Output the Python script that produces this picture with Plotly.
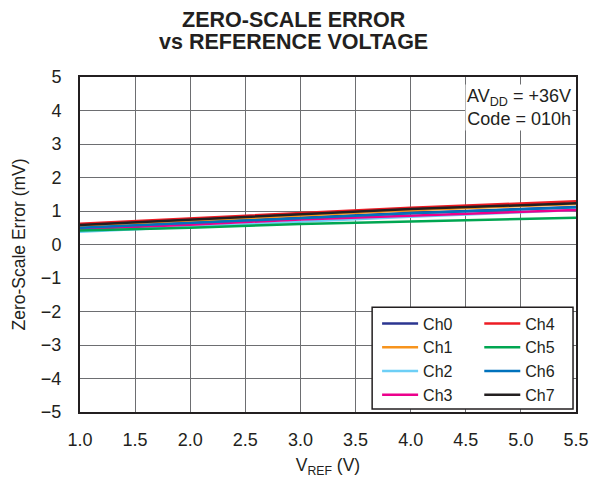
import plotly.graph_objects as go

vref = [1.0, 2.0, 3.0, 4.0, 5.5]
ch0 = [0.52, 0.66, 0.80, 0.94, 1.12]
ch1 = [0.55, 0.71, 0.87, 1.02, 1.21]
ch2 = [0.38, 0.53, 0.69, 0.83, 1.03]
ch3 = [0.46, 0.59, 0.75, 0.87, 1.03]
ch4 = [0.62, 0.78, 0.96, 1.10, 1.29]
ch5 = [0.42, 0.50, 0.61, 0.68, 0.80]
ch6 = [0.50, 0.64, 0.80, 0.93, 1.11]
ch7 = [0.58, 0.74, 0.91, 1.06, 1.23]

series = [
    ("Ch0", ch0, "#2b3590", "legend"),
    ("Ch1", ch1, "#f7941d", "legend"),
    ("Ch2", ch2, "#6dcff6", "legend"),
    ("Ch3", ch3, "#ec008c", "legend"),
    ("Ch4", ch4, "#ed1c24", "legend2"),
    ("Ch5", ch5, "#00a651", "legend2"),
    ("Ch6", ch6, "#0072bc", "legend2"),
    ("Ch7", ch7, "#231f20", "legend2"),
]

FONT = "Arial, Liberation Sans, Helvetica, sans-serif"
INK = "#231f20"
fig = go.Figure()
for name, ys, col, lg in series:
    fig.add_trace(go.Scatter(x=vref, y=ys, mode="lines", name=name,
                             line=dict(color=col, width=2.5), legend=lg))

leg_common = dict(bgcolor="rgba(0,0,0,0)", borderwidth=0, font=dict(size=16, color=INK),
                  yanchor="top", xanchor="left", traceorder="normal", tracegroupgap=0,
                  itemwidth=36)

fig.update_layout(
    width=589, height=481,
    margin=dict(l=80, r=13, t=77, b=69, autoexpand=False),
    paper_bgcolor="white", plot_bgcolor="white",
    font=dict(family=FONT, size=18, color=INK),
    xaxis=dict(range=[1.0, 5.5], dtick=0.5, tick0=1.0, tickformat=".1f",
               showgrid=True, gridcolor="#6d6e71", gridwidth=1.2,
               showline=True, linecolor=INK, linewidth=2, mirror=True,
               zeroline=False, ticks="", tickfont=dict(size=18), ticklabelstandoff=10,
               title=dict(text="V<sub>REF</sub> (V)", standoff=10, font=dict(size=17.5))),
    yaxis=dict(range=[-5, 5], dtick=1,
               showgrid=True, gridcolor="#6d6e71", gridwidth=1.2,
               showline=True, linecolor=INK, linewidth=2, mirror=True,
               zeroline=False, ticks="", tickfont=dict(size=18), ticklabelstandoff=13,
               title=dict(text="Zero-Scale Error (mV)", standoff=11, font=dict(size=17.5))),
    showlegend=True,
    legend=dict(x=0.599, y=0.315, **leg_common),
    legend2=dict(x=0.805, y=0.315, **leg_common),
    shapes=[dict(type="rect", xref="paper", yref="paper", x0=0.589, x1=0.994, y0=0.009, y1=0.313,
                 line=dict(color=INK, width=1.5), fillcolor="white", layer="above")],
    annotations=[
        dict(text="<b>ZERO-SCALE ERROR</b>", xref="paper", yref="paper",
             x=0.431, y=1.170, xanchor="center", yanchor="middle", showarrow=False,
             font=dict(size=21.5, color=INK)),
        dict(text="<b>vs REFERENCE VOLTAGE</b>", xref="paper", yref="paper",
             x=0.431, y=1.104, xanchor="center", yanchor="middle", showarrow=False,
             font=dict(size=21.5, color=INK)),
        dict(text="AV<sub>DD</sub> = +36V<br>Code = 010h", xref="paper", yref="paper",
             x=0.994, y=0.98, xanchor="right", yanchor="top", showarrow=False,
             align="right", bgcolor="white", font=dict(size=18, color=INK)),
    ],
)
fig.write_html("out.html", config={"displayModeBar": False},
               post_script="document.body.style.margin='0';document.body.style.overflow='hidden';")
